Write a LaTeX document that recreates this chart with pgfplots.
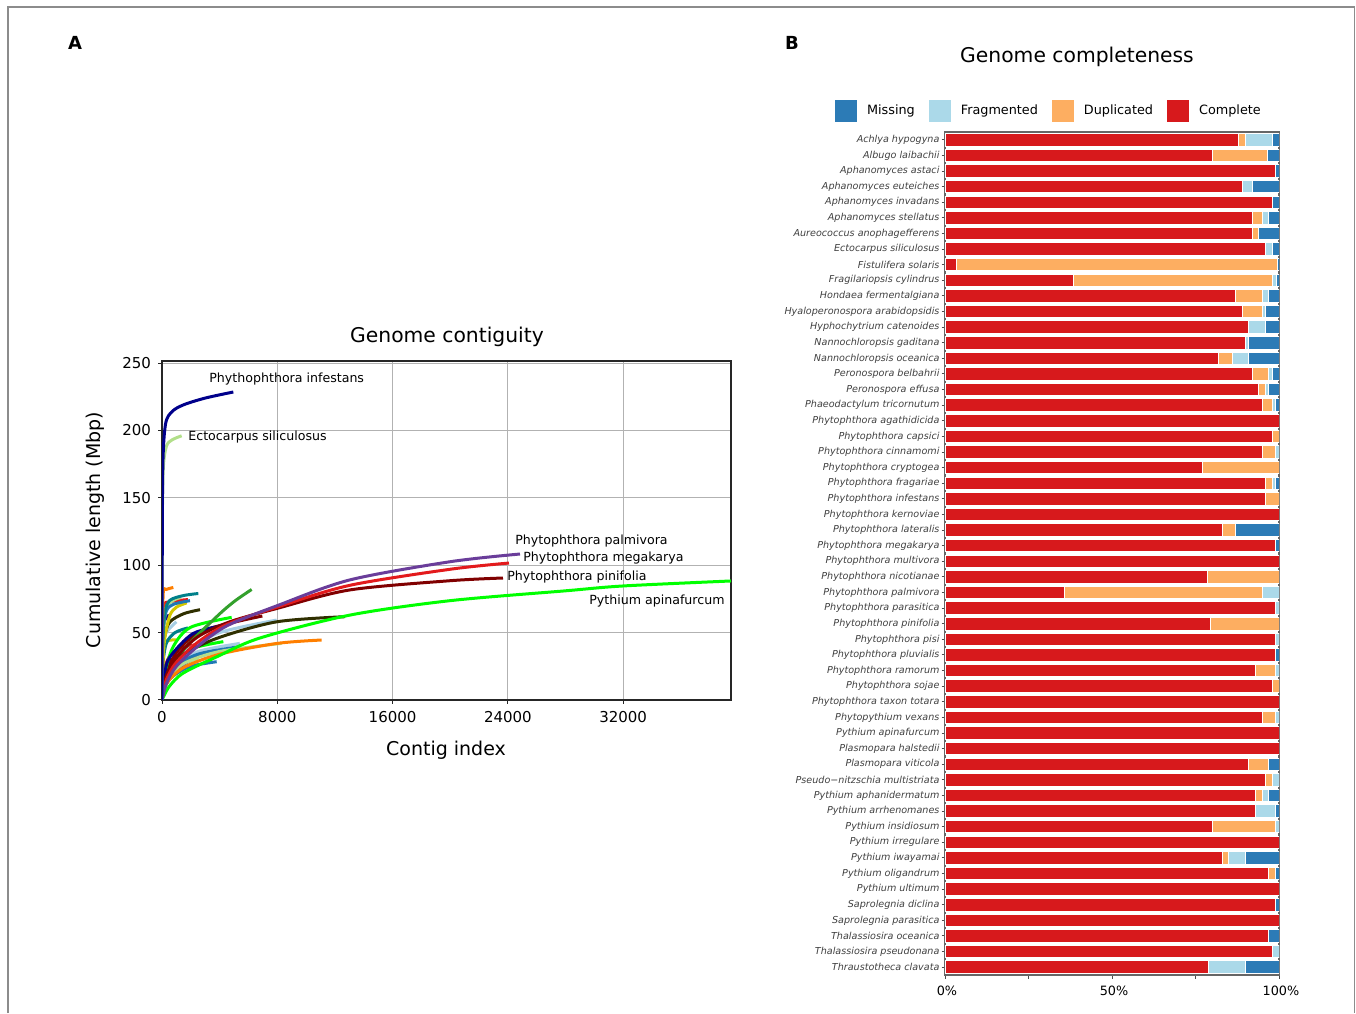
\documentclass[border=0pt]{standalone}
\usepackage{pgfplots}
\pgfplotsset{compat=1.18}
\usepackage{pgfplotstable}
\usepackage{fontspec}
\setmainfont{DejaVu Sans}

\definecolor{cNavy}{HTML}{00008B}
\definecolor{cLGreen}{HTML}{B2DF8A}
\definecolor{cPurple}{HTML}{6A3D9A}
\definecolor{cRed}{HTML}{E31A1C}
\definecolor{cDRed}{HTML}{800000}
\definecolor{cLime}{HTML}{00FF00}
\definecolor{cOlive}{HTML}{2F2F00}
\definecolor{cOrange}{HTML}{FF7F00}
\definecolor{cGreen}{HTML}{33A02C}
\definecolor{cLBlue}{HTML}{A6CEE3}
\definecolor{cBlue}{HTML}{1F78B4}
\definecolor{cTeal}{HTML}{00808A}
\definecolor{cYellow}{HTML}{D4C800}

\definecolor{bC}{HTML}{D7191C}
\definecolor{bD}{HTML}{FDAE61}
\definecolor{bF}{HTML}{ABD9E9}
\definecolor{bM}{HTML}{2C7BB6}

\pgfplotstableread{
idx C D F M
0 88 2 8 2
1 80 16.5 0 3.5
2 99 0 0 1
3 89 0 3 8
4 98 0 0 2
5 92 3 2 3
6 92 2 0 6
7 96 0 2 2
8 3.5 96 0 0.5
9 38.5 59.5 1.3 0.7
10 87 8 2 3
11 89 6 1 4
12 91 0 5 4
13 90 0 1 9
14 82 4 5 9
15 92 5 1 2
16 94 2 1 3
17 95 3 1 1
18 100 0 0 0
19 98 2 0 0
20 95 4 1 0
21 77 23 0 0
22 96 2 1 1
23 96 4 0 0
24 100 0 0 0
25 83 4 0 13
26 99 0 0 1
27 100 0 0 0
28 78.5 21.5 0 0
29 35.7 59.3 5 0
30 99 0 1 0
31 79.5 20.5 0 0
32 99 0 1 0
33 99 0 0 1
34 93 6 1 0
35 98 2 0 0
36 100 0 0 0
37 95 4 1 0
38 100 0 0 0
39 100 0 0 0
40 91 6 0 3
41 96 2 2 0
42 93 2 2 3
43 93 0 6 1
44 80 19 1 0
45 100 0 0 0
46 83 2 5 10
47 97 2 0 1
48 100 0 0 0
49 99 0 0 1
50 100 0 0 0
51 97 0 0 3
52 98 0 2 0
53 79 0 11 10
}\bardata

\begin{document}
\begin{tikzpicture}
\useasboundingbox (0,0) rectangle (678pt,506.5pt);
\draw[black!45, line width=0.6pt] (4pt,0pt) -- (4pt,503pt) -- (677.3pt,503pt) -- (677.3pt,0pt);

% panel labels and titles
\node[font=\fontsize{9}{10}\selectfont\bfseries] at ({75*0.5pt},{(1013-43)*0.5pt}) {A};
\node[font=\fontsize{9}{10}\selectfont\bfseries] at ({792*0.5pt},{(1013-43)*0.5pt}) {B};
\node[font=\fontsize{10.15}{12}\selectfont] at ({447*0.5pt},{(1013-337)*0.5pt}) {Genome contiguity};
\node[font=\fontsize{10.15}{12}\selectfont] at ({1077*0.5pt},{(1013-57)*0.5pt}) {Genome completeness};
\node[font=\fontsize{9.5}{11}\selectfont] at ({446*0.5pt},{(1013-750)*0.5pt}) {Contig index};
\node[font=\fontsize{9.5}{11}\selectfont, rotate=90] at ({95*0.5pt},{(1013-530)*0.5pt}) {Cumulative length (Mbp)};

\begin{axis}[
  at={(81pt,156.5pt)}, anchor=south west, scale only axis,
  width=284.5pt, height=169.5pt,
  xmin=0, xmax=39480, ymin=0, ymax=251.5,
  xtick={0,8000,16000,24000,32000}, ytick={0,50,100,150,200,250},
  scaled x ticks=false,
  xticklabel style={/pgf/number format/1000 sep={}},
  /pgf/number format/assume math mode=true,
  tick label style={font=\fontsize{7.5}{9}\selectfont},
  tick align=outside, tick pos=left, major tick length=2pt,
  grid=major, grid style={black!30, line width=0.5pt},
  axis line style={black!85, line width=0.6pt},
  every tick/.style={black!85, line width=0.5pt},
  clip mode=individual,
  every axis plot/.append style={line width=1.5pt, smooth, mark=none},
]
\addplot[cBlue] coordinates {(0,0) (200,10) (800,18) (2000,25) (3793,28.4)};
\addplot[cLGreen] coordinates {(0,0) (150,9) (700,18) (1500,26) (2500,31)};
\addplot[cPurple] coordinates {(0,0) (300,12) (1200,24) (2500,33) (3600,38)};
\addplot[cLBlue] coordinates {(0,0) (200,14) (900,26) (2500,36) (5400,42)};
\addplot[cBlue] coordinates {(0,0) (200,12) (800,24) (2500,34) (5412,39.6)};
\addplot[cRed] coordinates {(0,0) (100,20) (500,32) (1200,38) (2300,41)};
\addplot[cLGreen] coordinates {(0,0) (300,14) (1500,27) (4000,36) (8300,42)};
\addplot[cOrange] coordinates {(0,0) (300,12) (1500,24) (4000,34) (8000,42) (11078,44.5)};
\addplot[cLime] coordinates {(0,0) (200,14) (800,28) (2000,38) (4256,43.3)};
\addplot[cYellow] coordinates {(0,0) (40,30) (208,43) (1018,44.5)};
\addplot[cOlive] coordinates {(0,0) (100,20) (400,28) (1200,33)};
\addplot[cTeal] coordinates {(0,0) (50,25) (300,42) (900,50) (1800,53.5)};
\addplot[cLBlue] coordinates {(0,0) (50,30) (200,48) (1000,58)};
\addplot[cNavy] coordinates {(0,0) (30,40) (150,58) (500,63)};
\addplot[cOlive] coordinates {(0,0) (50,30) (200,48) (555,58) (1500,64) (2637,67)};
\addplot[cYellow] coordinates {(0,0) (80,30) (208,47) (555,63) (1018,69) (1712,72)};
\addplot[cRed] coordinates {(0,0) (30,50) (100,70) (600,73) (1800,74.5)};
\addplot[cLGreen] coordinates {(0,0) (60,45) (300,68) (800,74) (1300,76)};
\addplot[cBlue] coordinates {(0,0) (60,50) (300,66) (800,71) (1943,73.7)};
\addplot[cTeal] coordinates {(0,0) (50,40) (200,65) (555,74) (1500,77.5) (2521,79)};
\addplot[cOrange] coordinates {(0,0) (40,50) (90,80) (300,82) (786,83.5)};
\addplot[cLBlue] coordinates {(0,0) (300,18) (1500,35) (4000,50) (7958,59.3)};
\addplot[cDRed] coordinates {(0,0) (300,20) (1200,38) (3000,52) (6962,62.3)};
\addplot[cLime] coordinates {(0,0) (200,20) (800,40) (2000,54) (4834,61.3)};
\addplot[cNavy] coordinates {(0,0) (200,20) (555,32) (2174,49.4) (4486,55.6)};
\addplot[cGreen] coordinates {(0,0) (300,15) (1480,37) (3793,61.8) (5000,73) (6220,82)};
\addplot[cOlive] coordinates {(0,0) (300,18) (1200,32) (3793,45.7) (7958,58) (12700,61.8)};
\addplot[cLime] coordinates {(0,0) (500,10) (1480,20) (3793,32) (6800,46) (13044,63) (20000,73.7) (28000,81) (32000,84.6) (39480,88.3)};
\addplot[cDRed] coordinates {(0,0) (300,18) (1000,32) (2500,47) (4700,58) (8000,68) (13000,81.6) (20000,88.5) (23660,90.5)};
\addplot[cRed] coordinates {(0,0) (300,15) (1000,28) (2500,43) (4500,56) (8000,69) (13000,85) (20000,97) (24075,101.6)};
\addplot[cPurple] coordinates {(0,0) (300,12) (1000,25) (2500,40) (4500,55) (8000,70) (13000,89) (20000,102.6) (24840,108.3)};
\addplot[cLGreen] coordinates {(0,0) (20,120) (80,170) (300,188) (700,193) (1365,196)};
\addplot[cNavy] coordinates {(0,0) (15,100) (60,175) (250,205) (700,214) (1500,219) (3000,224) (4950,228.5)};

\node[anchor=west, inner sep=0pt, font=\fontsize{6.3}{7}\selectfont] at (axis cs:3261,238.1) {Phythophthora infestans};
\node[anchor=west, inner sep=0pt, font=\fontsize{6.3}{7}\selectfont] at (axis cs:1804,195.1) {Ectocarpus siliculosus};
\node[anchor=west, inner sep=0pt, font=\fontsize{6.3}{7}\selectfont] at (axis cs:24492,118) {Phytophthora palmivora};
\node[anchor=west, inner sep=0pt, font=\fontsize{6.3}{7}\selectfont] at (axis cs:25047,105.3) {Phytophthora megakarya};
\node[anchor=west, inner sep=0pt, font=\fontsize{6.3}{7}\selectfont] at (axis cs:23937,91.2) {Phytophthora pinifolia};
\node[anchor=west, inner sep=0pt, font=\fontsize{6.3}{7}\selectfont] at (axis cs:29626,73.4) {Pythium apinafurcum};
\end{axis}

\begin{axis}[
  at={(472.5pt,19pt)}, anchor=south west, scale only axis,
  width=167pt, height=421.5pt,
  xbar stacked, bar width=6.25pt,
  xmin=0, xmax=100, ymin=-0.5, ymax=53.5, y dir=reverse,
  ytick={0,...,53},
  yticklabels={Achlya hypogyna, Albugo laibachii, Aphanomyces astaci, Aphanomyces euteiches, Aphanomyces invadans, Aphanomyces stellatus, Aureococcus anophagefferens, Ectocarpus siliculosus, Fistulifera solaris, Fragilariopsis cylindrus, Hondaea fermentalgiana, Hyaloperonospora arabidopsidis, Hyphochytrium catenoides, Nannochloropsis gaditana, Nannochloropsis oceanica, Peronospora belbahrii, Peronospora effusa, Phaeodactylum tricornutum, Phytophthora agathidicida, Phytophthora capsici, Phytophthora cinnamomi, Phytophthora cryptogea, Phytophthora fragariae, Phytophthora infestans, Phytophthora kernoviae, Phytophthora lateralis, Phytophthora megakarya, Phytophthora multivora, Phytophthora nicotianae, Phytophthora palmivora, Phytophthora parasitica, Phytophthora pinifolia, Phytophthora pisi, Phytophthora pluvialis, Phytophthora ramorum, Phytophthora sojae, Phytophthora taxon totara, Phytopythium vexans, Pythium apinafurcum, Plasmopara halstedii, Plasmopara viticola, Pseudo−nitzschia multistriata, Pythium aphanidermatum, Pythium arrhenomanes, Pythium insidiosum, Pythium irregulare, Pythium iwayamai, Pythium oligandrum, Pythium ultimum, Saprolegnia diclina, Saprolegnia parasitica, Thalassiosira oceanica, Thalassiosira pseudonana, Thraustotheca clavata},
  yticklabel style={font=\fontsize{4.8}{5}\selectfont\itshape, text=black!75, xshift=2.5pt},
  xtick={0,25,50,75,100}, xticklabels={0\%,,50\%,,100\%},
  xticklabel style={font=\fontsize{6.4}{7}\selectfont, xshift=1pt},
  tick align=outside, tick pos=left, major tick length=1.75pt,
  axis line style={black!60, line width=0.6pt},
  every tick/.style={black!70, line width=0.5pt},
  reverse legend,
  legend columns=4,
  legend cell align=left,
  legend image code/.code={\draw[#1, draw=none] (0pt,-5.5pt) rectangle (11pt,5.5pt);},
  legend style={draw=none, fill=none, inner sep=0pt, outer sep=0pt,
    at={(-0.329,1.012)}, anchor=south west,
    font=\fontsize{6.4}{7}\selectfont,
    /tikz/every odd column/.append style={column sep=3pt},
    /tikz/every even column/.append style={column sep=5pt}},
]
\addplot[fill=bC, draw=white, line width=0.5pt] table[x=C, y=idx] {\bardata};
\addplot[fill=bD, draw=white, line width=0.5pt] table[x=D, y=idx] {\bardata};
\addplot[fill=bF, draw=white, line width=0.5pt] table[x=F, y=idx] {\bardata};
\addplot[fill=bM, draw=white, line width=0.5pt] table[x=M, y=idx] {\bardata};
\legend{Complete, Duplicated, Fragmented, Missing}
\end{axis}
\end{tikzpicture}
\end{document}
